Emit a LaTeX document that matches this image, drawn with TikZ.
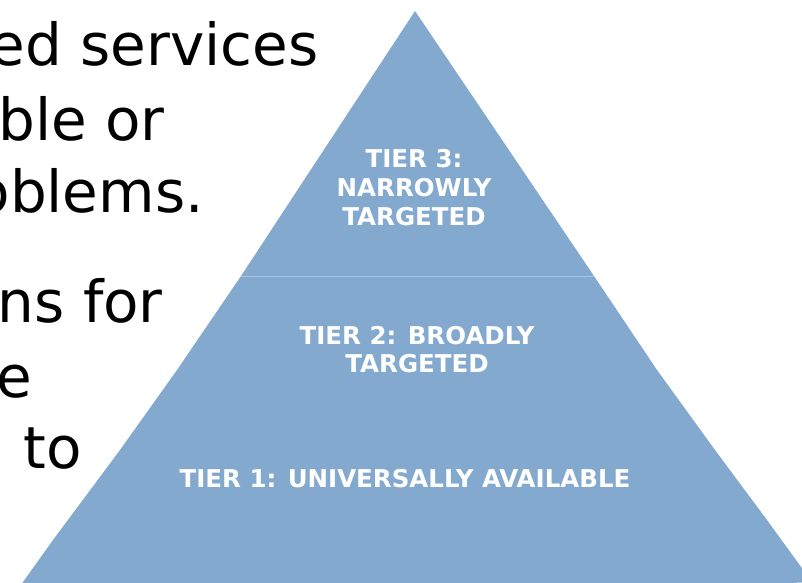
\documentclass[tikz,border=0pt]{standalone}
\usepackage{fontspec}
\setmainfont{DejaVu Sans}
\definecolor{pyrblue}{RGB}{132,169,207}
\definecolor{pyrline}{RGB}{170,196,222}
\tikzset{
  bodytext/.style={inner sep=0pt, anchor=base east, text=black, font=\fontsize{58}{70}\selectfont},
  tierlabel/.style={inner sep=0pt, text=white, align=center, font=\bfseries\fontsize{24.5}{29}\selectfont},
  tierfill/.style={fill=pyrblue, draw=none}
}
\begin{document}
\begin{tikzpicture}[x=1pt,y=-1pt]
\useasboundingbox (0,0) rectangle (802,582);
\clip (0,0) rectangle (802,582);
% pyramid
\fill[tierfill] (415,11) -- (594,276) -- (241,276) -- cycle;
\fill[tierfill] (241,276) -- (594,276) -- (657,370) -- (715,450) -- (767,520) -- (812,582) -- (0,620) -- (23,582) -- (53,540) -- (120,450) -- (177,370) -- cycle;
\coordinate (bl) at (241,276);
\coordinate (br) at (594,276);
\draw[pyrline, line width=0.8pt] (bl) -- (br);
% labels
\node[tierlabel] (t3) at (414,188) {TIER 3:\\NARROWLY\\TARGETED};
\node[tierlabel, font=\bfseries\fontsize{24.5}{28}\selectfont] (t2) at (417,350) {TIER 2: BROADLY\\TARGETED};
\node[tierlabel, anchor=base] (t1) at (405,487) {TIER 1: UNIVERSALLY AVAILABLE};
% left text
\node[bodytext] (l1) at (319,65) {ed services};
\node[bodytext] (l2) at (165,140) {ble or};
\node[bodytext] (l3) at (204,212) {oblems.};
\node[bodytext] (l4) at (163,322) {ns for};
\node[bodytext] (l5) at (32,397) {e};
\node[bodytext] (l6) at (82,468) {to};
\end{tikzpicture}
\end{document}
